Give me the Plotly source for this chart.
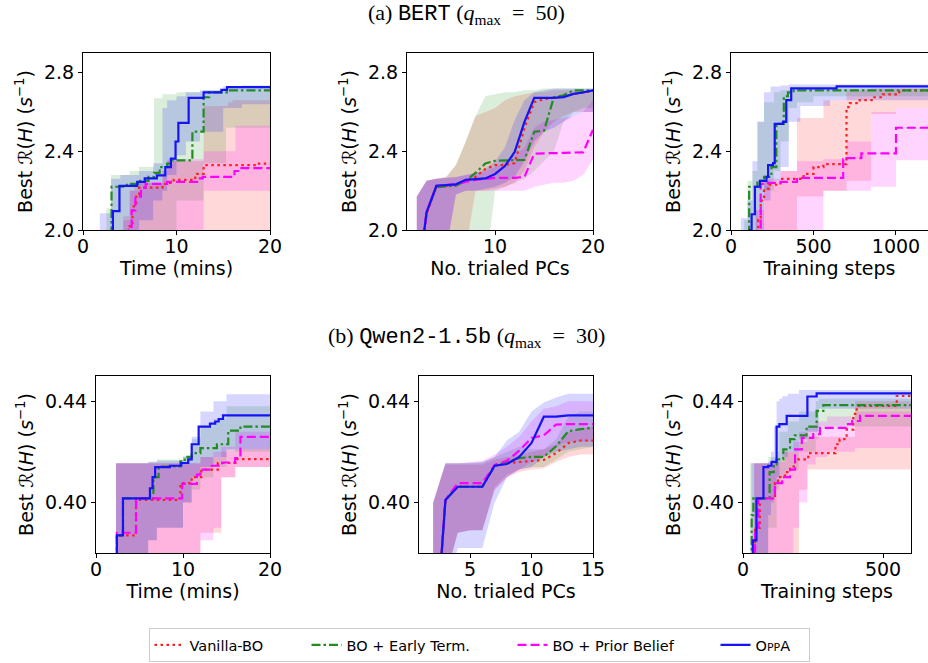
import plotly.graph_objects as go
from plotly.subplots import make_subplots

# ---------------- data ----------------
# (a) BERT, best throughput vs. time (mins)
bt_van_x = [4.8, 5.0, 5.3, 5.7, 6.0, 8.5, 9.0, 9.7, 12.0, 12.9, 18.5, 20]
bt_van_y = [1.9, 2.02, 2.12, 2.18, 2.215, 2.235, 2.24, 2.255, 2.285, 2.33, 2.338, 2.338]
bt_van_bx = [4.3, 5.0, 5.5, 6.0, 8.5, 9.0, 12.9, 15.5, 16.0, 20]
bt_van_lo = [1.9, 1.9, 1.9, 1.9, 1.9, 1.9, 1.9, 1.9, 1.9, 1.9]
bt_van_hi = [2.07, 2.2, 2.22, 2.24, 2.3, 2.35, 2.63, 2.65, 2.66, 2.66]

bt_early_x = [2.7, 3.05, 4.7, 5.9, 7.0, 7.6, 8.2, 9.0, 9.5, 11.7, 12.9, 13.5, 15.5, 20]
bt_early_y = [1.9, 2.22, 2.235, 2.25, 2.27, 2.29, 2.32, 2.338, 2.354, 2.50, 2.675, 2.70, 2.71, 2.71]
bt_early_bx = [2.5, 3.0, 5.0, 6.0, 7.6, 8.5, 10.0, 12.9, 15.3, 20]
bt_early_lo = [1.9, 1.9, 1.9, 1.9, 1.9, 1.95, 2.15, 2.34, 2.52, 2.52]
bt_early_hi = [2.11, 2.28, 2.30, 2.32, 2.67, 2.69, 2.70, 2.71, 2.72, 2.72]

bt_prior_x = [4.7, 4.9, 5.2, 5.6, 6.2, 6.7, 9.0, 12.2, 12.8, 16.2, 16.6, 20]
bt_prior_y = [1.9, 2.0, 2.1, 2.17, 2.215, 2.235, 2.245, 2.262, 2.27, 2.30, 2.315, 2.318]
bt_prior_bx = [4.3, 5.0, 6.0, 8.5, 9.0, 12.9, 16.3, 20]
bt_prior_lo = [1.9, 1.9, 1.9, 1.9, 1.9, 2.2, 2.2, 2.2]
bt_prior_hi = [2.05, 2.2, 2.24, 2.3, 2.36, 2.40, 2.53, 2.53]

bt_oppa_x = [2.8, 3.2, 3.9, 5.8, 6.6, 7.9, 8.8, 9.4, 9.9, 10.2, 11.3, 12.9, 14.8, 15.4, 20]
bt_oppa_y = [1.9, 2.096, 2.224, 2.245, 2.262, 2.278, 2.32, 2.363, 2.45, 2.545, 2.672, 2.70, 2.713, 2.726, 2.726]
bt_oppa_bx = [1.8, 3.0, 4.0, 6.0, 7.5, 8.5, 9.0, 10.0, 11.0, 12.5, 15.0, 17.0, 20]
bt_oppa_lo = [1.9, 1.9, 1.95, 2.05, 2.15, 2.2, 2.28, 2.38, 2.45, 2.5, 2.62, 2.64, 2.65]
bt_oppa_hi = [2.085, 2.26, 2.28, 2.30, 2.34, 2.62, 2.66, 2.68, 2.70, 2.71, 2.73, 2.735, 2.735]

# (a) BERT, best throughput vs. number of trialed PCs
bp_x = [2, 3, 4, 5, 6, 7, 8, 9, 10, 11, 12, 13, 14, 15, 16, 17, 18, 19, 20]
bp_van_y = [1.7, 2.08, 2.22, 2.225, 2.23, 2.25, 2.27, 2.31, 2.33, 2.33, 2.34, 2.52, 2.65, 2.665, 2.672, 2.68, 2.69, 2.70, 2.705]
bp_van_lo = [1.8, 1.8, 1.8, 1.8, 1.8, 1.9, 2.2, 2.2, 2.21, 2.22, 2.24, 2.3, 2.42, 2.5, 2.55, 2.58, 2.6, 2.6, 2.6]
bp_van_hi = [2.17, 2.25, 2.26, 2.27, 2.33, 2.45, 2.58, 2.60, 2.62, 2.66, 2.68, 2.69, 2.70, 2.70, 2.71, 2.71, 2.71, 2.71, 2.71]
bp_early_y = [1.7, 2.09, 2.218, 2.22, 2.225, 2.25, 2.29, 2.338, 2.352, 2.354, 2.356, 2.356, 2.50, 2.505, 2.675, 2.685, 2.71, 2.71, 2.71]
bp_early_lo = [1.8, 1.8, 1.8, 1.8, 1.8, 1.8, 1.8, 1.8, 2.2, 2.22, 2.24, 2.26, 2.3, 2.35, 2.4, 2.55, 2.6, 2.62, 2.62]
bp_early_hi = [2.17, 2.25, 2.26, 2.27, 2.33, 2.45, 2.58, 2.68, 2.69, 2.70, 2.70, 2.71, 2.71, 2.72, 2.72, 2.72, 2.72, 2.72, 2.72]
bp_prior_y = [1.7, 2.09, 2.225, 2.228, 2.232, 2.245, 2.255, 2.26, 2.265, 2.265, 2.265, 2.27, 2.388, 2.39, 2.39, 2.392, 2.394, 2.395, 2.51]
bp_prior_lo = [1.8, 1.8, 1.8, 1.9, 2.18, 2.2, 2.2, 2.2, 2.2, 2.2, 2.2, 2.2, 2.22, 2.23, 2.24, 2.24, 2.25, 2.28, 2.36]
bp_prior_hi = [2.17, 2.25, 2.26, 2.265, 2.27, 2.28, 2.29, 2.3, 2.32, 2.35, 2.38, 2.42, 2.52, 2.55, 2.56, 2.57, 2.58, 2.6, 2.66]
bp_oppa_y = [1.7, 2.09, 2.225, 2.228, 2.232, 2.255, 2.258, 2.262, 2.285, 2.325, 2.397, 2.55, 2.672, 2.672, 2.672, 2.676, 2.692, 2.70, 2.71]
bp_oppa_lo = [1.8, 1.8, 1.8, 1.9, 2.18, 2.2, 2.2, 2.21, 2.22, 2.24, 2.27, 2.35, 2.45, 2.5, 2.52, 2.55, 2.58, 2.6, 2.6]
bp_oppa_hi = [2.17, 2.25, 2.26, 2.265, 2.27, 2.28, 2.29, 2.31, 2.35, 2.42, 2.56, 2.66, 2.70, 2.71, 2.72, 2.72, 2.72, 2.72, 2.72]

# (a) BERT, best throughput vs. training steps
bs_van_x = [150, 165, 180, 200, 230, 300, 440, 500, 560, 700, 720, 780, 860, 920, 1020, 1200]
bs_van_y = [1.9, 2.05, 2.15, 2.21, 2.23, 2.26, 2.285, 2.32, 2.335, 2.625, 2.645, 2.66, 2.675, 2.69, 2.71, 2.715]
bs_van_bx = [150, 200, 300, 400, 560, 700, 850, 1000, 1200]
bs_van_lo = [1.9, 1.9, 1.9, 2.17, 2.2, 2.25, 2.59, 2.62, 2.63]
bs_van_hi = [2.1, 2.25, 2.30, 2.57, 2.66, 2.71, 2.72, 2.72, 2.72]

bs_early_x = [95, 110, 160, 200, 245, 275, 320, 345, 380, 1200]
bs_early_y = [1.9, 2.22, 2.25, 2.27, 2.32, 2.54, 2.68, 2.70, 2.71, 2.71]
bs_early_bx = [80, 100, 130, 160, 200, 260, 300, 350, 400, 500, 1200]
bs_early_lo = [1.9, 1.95, 2.0, 2.1, 2.2, 2.3, 2.45, 2.62, 2.65, 2.68, 2.70]
bs_early_hi = [2.05, 2.25, 2.3, 2.55, 2.65, 2.70, 2.71, 2.715, 2.72, 2.72, 2.72]

bs_prior_x = [150, 165, 180, 215, 300, 400, 680, 700, 790, 1000, 1200]
bs_prior_y = [1.9, 2.0, 2.235, 2.24, 2.245, 2.265, 2.36, 2.365, 2.39, 2.52, 2.52]
bs_prior_bx = [150, 200, 300, 400, 560, 700, 850, 1000, 1200]
bs_prior_lo = [1.9, 1.9, 1.9, 2.0, 2.2, 2.2, 2.22, 2.355, 2.355]
bs_prior_hi = [2.1, 2.26, 2.3, 2.35, 2.36, 2.45, 2.6, 2.62, 2.62]

bs_oppa_x = [100, 115, 125, 145, 175, 215, 225, 255, 265, 315, 335, 365, 640, 1200]
bs_oppa_y = [1.9, 2.0, 2.08, 2.22, 2.25, 2.27, 2.33, 2.34, 2.54, 2.55, 2.66, 2.72, 2.73, 2.73]
bs_oppa_bx = [60, 100, 130, 160, 200, 240, 300, 350, 420, 600, 1200]
bs_oppa_lo = [1.9, 1.9, 1.95, 2.0, 2.15, 2.25, 2.32, 2.55, 2.63, 2.66, 2.70]
bs_oppa_hi = [2.06, 2.15, 2.35, 2.55, 2.70, 2.73, 2.735, 2.74, 2.74, 2.74, 2.74]

# (b) Qwen2-1.5b, best throughput vs. time (mins)
qt_van_x = [2.2, 2.4, 4.6, 9.7, 11.0, 12.1, 14.0, 16.2, 20]
qt_van_y = [0.37, 0.387, 0.401, 0.4076, 0.410, 0.413, 0.4156, 0.4171, 0.4171]
qt_van_bx = [2.3, 4.6, 9.5, 12.0, 14.4, 16.0, 20]
qt_van_lo = [0.37, 0.37, 0.37, 0.388, 0.41, 0.414, 0.414]
qt_van_hi = [0.4155, 0.4155, 0.4155, 0.418, 0.42, 0.421, 0.4215]

qt_early_x = [2.2, 2.4, 3.1, 6.6, 7.2, 9.7, 10.2, 11.0, 12.0, 13.9, 15.2, 16.6, 20]
qt_early_y = [0.37, 0.387, 0.4016, 0.41, 0.4142, 0.4162, 0.418, 0.4195, 0.4215, 0.423, 0.4284, 0.430, 0.430]
qt_early_bx = [2.3, 6.0, 7.0, 10.0, 11.0, 12.0, 13.5, 15.0, 20]
qt_early_lo = [0.37, 0.385, 0.39, 0.40, 0.405, 0.41, 0.414, 0.42, 0.422]
qt_early_hi = [0.4155, 0.4162, 0.417, 0.4185, 0.425, 0.43, 0.433, 0.438, 0.44]

qt_prior_x = [2.2, 2.4, 4.6, 9.9, 11.6, 12.0, 13.3, 14.5, 16.0, 16.6, 20]
qt_prior_y = [0.37, 0.388, 0.4016, 0.4073, 0.411, 0.413, 0.4145, 0.4158, 0.4175, 0.4259, 0.4259]
qt_prior_bx = [2.3, 4.6, 9.5, 12.0, 13.5, 14.4, 16.0, 20]
qt_prior_lo = [0.37, 0.37, 0.37, 0.385, 0.39, 0.41, 0.414, 0.414]
qt_prior_hi = [0.4155, 0.4155, 0.4155, 0.418, 0.42, 0.422, 0.428, 0.429]

qt_oppa_x = [2.2, 2.4, 3.1, 6.2, 6.5, 6.8, 8.5, 9.8, 10.6, 11.0, 11.8, 13.1, 13.7, 14.1, 14.6, 20]
qt_oppa_y = [0.37, 0.387, 0.4016, 0.4056, 0.41, 0.414, 0.4145, 0.4156, 0.417, 0.423, 0.430, 0.4312, 0.432, 0.433, 0.4344, 0.4344]
qt_oppa_bx = [2.3, 6.0, 7.0, 10.0, 11.0, 12.0, 13.5, 15.0, 20]
qt_oppa_lo = [0.37, 0.385, 0.39, 0.40, 0.41, 0.414, 0.418, 0.421, 0.423]
qt_oppa_hi = [0.4155, 0.416, 0.4165, 0.418, 0.426, 0.436, 0.44, 0.4428, 0.4428]

# (b) Qwen2-1.5b, best throughput vs. number of trialed PCs
qp_x = [2, 3, 4, 5, 6, 7, 8, 9, 10, 11, 12, 13, 14, 15]
qp_van_y = [0.333, 0.401, 0.4062, 0.4062, 0.4062, 0.4145, 0.4155, 0.416, 0.4165, 0.4168, 0.4195, 0.4235, 0.4245, 0.4245]
qp_van_lo = [0.36, 0.37, 0.388, 0.389, 0.389, 0.405, 0.41, 0.412, 0.413, 0.4135, 0.416, 0.418, 0.419, 0.419]
qp_van_hi = [0.40, 0.415, 0.415, 0.415, 0.415, 0.417, 0.418, 0.419, 0.42, 0.421, 0.423, 0.428, 0.429, 0.43]
qp_early_y = [0.333, 0.401, 0.4062, 0.4062, 0.4062, 0.4145, 0.4158, 0.4175, 0.418, 0.418, 0.4222, 0.4282, 0.429, 0.4295]
qp_early_lo = [0.36, 0.37, 0.388, 0.389, 0.389, 0.406, 0.411, 0.413, 0.414, 0.414, 0.417, 0.42, 0.421, 0.422]
qp_early_hi = [0.40, 0.4155, 0.4155, 0.4158, 0.416, 0.418, 0.42, 0.422, 0.421, 0.421, 0.425, 0.434, 0.436, 0.436]
qp_prior_y = [0.333, 0.401, 0.4076, 0.4076, 0.4076, 0.4148, 0.4165, 0.4205, 0.4255, 0.4265, 0.4308, 0.431, 0.431, 0.431]
qp_prior_lo = [0.36, 0.37, 0.388, 0.389, 0.389, 0.405, 0.41, 0.413, 0.416, 0.418, 0.422, 0.424, 0.424, 0.424]
qp_prior_hi = [0.40, 0.4155, 0.4155, 0.416, 0.4165, 0.419, 0.422, 0.426, 0.432, 0.437, 0.438, 0.44, 0.44, 0.44]
qp_oppa_y = [0.333, 0.401, 0.4062, 0.4062, 0.4062, 0.4145, 0.4152, 0.418, 0.4235, 0.4339, 0.4339, 0.4344, 0.4344, 0.4344]
qp_oppa_lo = [0.36, 0.36, 0.382, 0.382, 0.382, 0.40, 0.41, 0.413, 0.414, 0.418, 0.42, 0.421, 0.422, 0.422]
qp_oppa_hi = [0.3996, 0.4155, 0.4155, 0.4155, 0.4158, 0.418, 0.4245, 0.428, 0.436, 0.4395, 0.4415, 0.443, 0.443, 0.443]

# (b) Qwen2-1.5b, best throughput vs. training steps
qs_van_x = [40, 43, 60, 114, 125, 150, 168, 186, 233, 330, 345, 370, 394, 406, 549, 600]
qs_van_y = [0.37, 0.39, 0.4016, 0.4076, 0.41, 0.412, 0.4142, 0.417, 0.4195, 0.423, 0.425, 0.4288, 0.435, 0.4382, 0.4421, 0.4421]
qs_van_bx = [40, 120, 140, 200, 230, 400, 600]
qs_van_lo = [0.37, 0.37, 0.38, 0.405, 0.413, 0.413, 0.413]
qs_van_hi = [0.4155, 0.416, 0.42, 0.424, 0.426, 0.44, 0.443]

qs_early_x = [25, 31, 37, 95, 110, 120, 144, 168, 185, 227, 263, 287, 600]
qs_early_y = [0.37, 0.395, 0.4016, 0.412, 0.415, 0.417, 0.421, 0.425, 0.4265, 0.430, 0.4362, 0.4385, 0.4385]
qs_early_bx = [25, 90, 120, 130, 160, 200, 260, 270, 600]
qs_early_lo = [0.37, 0.39, 0.405, 0.41, 0.413, 0.42, 0.425, 0.43, 0.432]
qs_early_hi = [0.4155, 0.418, 0.42, 0.428, 0.432, 0.436, 0.44, 0.441, 0.441]

qs_prior_x = [40, 43, 55, 114, 140, 168, 186, 210, 251, 275, 370, 390, 418, 600]
qs_prior_y = [0.37, 0.39, 0.4016, 0.4076, 0.41, 0.413, 0.421, 0.4255, 0.427, 0.4295, 0.431, 0.4322, 0.4342, 0.4342]
qs_prior_bx = [40, 100, 150, 180, 200, 230, 260, 300, 400, 600]
qs_prior_lo = [0.37, 0.37, 0.37, 0.39, 0.40, 0.415, 0.418, 0.42, 0.4215, 0.4215]
qs_prior_hi = [0.4155, 0.416, 0.42, 0.424, 0.428, 0.43, 0.432, 0.434, 0.436, 0.437]

qs_oppa_x = [30, 35, 48, 73, 90, 102, 120, 130, 156, 210, 230, 263, 600]
qs_oppa_y = [0.37, 0.385, 0.4016, 0.414, 0.4145, 0.416, 0.430, 0.431, 0.4342, 0.4342, 0.4419, 0.4431, 0.4431]
qs_oppa_bx = [30, 60, 90, 100, 110, 120, 130, 140, 160, 200, 230, 270, 600]
qs_oppa_lo = [0.37, 0.37, 0.395, 0.40, 0.405, 0.41, 0.416, 0.418, 0.42, 0.425, 0.428, 0.437, 0.438]
qs_oppa_hi = [0.4155, 0.4155, 0.416, 0.42, 0.43, 0.44, 0.441, 0.442, 0.443, 0.4445, 0.4445, 0.4445, 0.4445]

method_names = ["Vanilla-BO", "BO + Early Term.", "BO + Prior Belief",
                "O<span style='font-size:11px'>PP</span>A"]
# ---------------------------------------------------------------

STYLE = {
    "van": dict(color="rgb(255,30,30)", dash="2.5px,3.5px", fill="rgba(255,0,0,0.15)", lw=112),
    "early": dict(color="rgb(34,139,34)", dash="9px,3px,2.5px,3px", fill="rgba(0,128,0,0.14)", lw=161),
    "prior": dict(color="rgb(255,0,255)", dash="9px,4px", fill="rgba(255,0,255,0.17)", lw=158),
    "oppa": dict(color="rgb(20,20,245)", dash="solid", fill="rgba(0,0,255,0.16)", lw=48),
}
KEYS = ["van", "early", "prior", "oppa"]

FONT = "DejaVu Sans, Arial, sans-serif"
fig = make_subplots(rows=2, cols=3)


def add_band(row, col, key, bx, lo, hi, shape):
    st = STYLE[key]
    fig.add_trace(go.Scatter(x=bx, y=lo, mode="lines", line=dict(width=0, shape=shape),
                             showlegend=False, hoverinfo="skip"), row=row, col=col)
    fig.add_trace(go.Scatter(x=bx, y=hi, mode="lines", line=dict(width=0, shape=shape),
                             fill="tonexty", fillcolor=st["fill"],
                             showlegend=False, hoverinfo="skip"), row=row, col=col)


def add_line(row, col, key, x, y, shape, legend):
    st = STYLE[key]
    fig.add_trace(go.Scatter(x=x, y=y, mode="lines", name=method_names[KEYS.index(key)],
                             line=dict(color=st["color"], width=2.2, dash=st["dash"], shape=shape),
                             showlegend=legend, legendwidth=st["lw"]), row=row, col=col)


# step panels: time & training steps
step_panels = [
    (1, 1, {"van": (bt_van_x, bt_van_y, bt_van_bx, bt_van_lo, bt_van_hi),
            "early": (bt_early_x, bt_early_y, bt_early_bx, bt_early_lo, bt_early_hi),
            "prior": (bt_prior_x, bt_prior_y, bt_prior_bx, bt_prior_lo, bt_prior_hi),
            "oppa": (bt_oppa_x, bt_oppa_y, bt_oppa_bx, bt_oppa_lo, bt_oppa_hi)}),
    (1, 3, {"van": (bs_van_x, bs_van_y, bs_van_bx, bs_van_lo, bs_van_hi),
            "early": (bs_early_x, bs_early_y, bs_early_bx, bs_early_lo, bs_early_hi),
            "prior": (bs_prior_x, bs_prior_y, bs_prior_bx, bs_prior_lo, bs_prior_hi),
            "oppa": (bs_oppa_x, bs_oppa_y, bs_oppa_bx, bs_oppa_lo, bs_oppa_hi)}),
    (2, 1, {"van": (qt_van_x, qt_van_y, qt_van_bx, qt_van_lo, qt_van_hi),
            "early": (qt_early_x, qt_early_y, qt_early_bx, qt_early_lo, qt_early_hi),
            "prior": (qt_prior_x, qt_prior_y, qt_prior_bx, qt_prior_lo, qt_prior_hi),
            "oppa": (qt_oppa_x, qt_oppa_y, qt_oppa_bx, qt_oppa_lo, qt_oppa_hi)}),
    (2, 3, {"van": (qs_van_x, qs_van_y, qs_van_bx, qs_van_lo, qs_van_hi),
            "early": (qs_early_x, qs_early_y, qs_early_bx, qs_early_lo, qs_early_hi),
            "prior": (qs_prior_x, qs_prior_y, qs_prior_bx, qs_prior_lo, qs_prior_hi),
            "oppa": (qs_oppa_x, qs_oppa_y, qs_oppa_bx, qs_oppa_lo, qs_oppa_hi)}),
]
for row, col, d in step_panels:
    for k in KEYS:
        x, y, bx, lo, hi = d[k]
        add_band(row, col, k, bx, lo, hi, "hv")
    for k in KEYS:
        x, y, bx, lo, hi = d[k]
        add_line(row, col, k, x, y, "hv", legend=(row == 1 and col == 1))

# PC panels (integer x, linear)
pc_panels = [
    (1, 2, bp_x, {"van": (bp_van_y, bp_van_lo, bp_van_hi), "early": (bp_early_y, bp_early_lo, bp_early_hi),
                  "prior": (bp_prior_y, bp_prior_lo, bp_prior_hi), "oppa": (bp_oppa_y, bp_oppa_lo, bp_oppa_hi)}),
    (2, 2, qp_x, {"van": (qp_van_y, qp_van_lo, qp_van_hi), "early": (qp_early_y, qp_early_lo, qp_early_hi),
                  "prior": (qp_prior_y, qp_prior_lo, qp_prior_hi), "oppa": (qp_oppa_y, qp_oppa_lo, qp_oppa_hi)}),
]
for row, col, xs, d in pc_panels:
    for k in KEYS:
        y, lo, hi = d[k]
        add_band(row, col, k, xs, lo, hi, "linear")
    for k in KEYS:
        y, lo, hi = d[k]
        add_line(row, col, k, xs, y, "linear", legend=False)

# axes
ytitle = "Best ℛ(<i>H</i>) (<i>s</i><sup>−1</sup>)"
ax_common = dict(showline=True, linecolor="black", linewidth=1, mirror=True, ticks="outside",
                 ticklen=4, tickwidth=1, tickcolor="black", showgrid=False, zeroline=False,
                 automargin=False, tickfont=dict(family=FONT, size=19, color="black"))
top_y = [1 - 230 / 663, 1 - 53 / 663]
bot_y = [1 - 553 / 663, 1 - 376 / 663]
xdom = {1: [83, 270], 2: [407, 593], 3: [731, 928], 4: [96, 270], 5: [419, 593], 6: [743, 911]}
xrng = {1: [0, 20], 2: [1.0, 20], 3: [0, 1194], 4: [0, 20], 5: [0.85, 15], 6: [0, 600]}
xtv = {1: [0, 10, 20], 2: [10, 20], 3: [0, 500, 1000], 4: [0, 10, 20], 5: [5, 10, 15], 6: [0, 500]}
xtitles = {1: "Time (mins)", 2: "No. trialed PCs", 3: "Training steps",
           4: "Time (mins)", 5: "No. trialed PCs", 6: "Training steps"}

for i in range(1, 7):
    sfx = "" if i == 1 else str(i)
    top = i <= 3
    fig.layout["xaxis" + sfx].update(
        ax_common, domain=[xdom[i][0] / 928, xdom[i][1] / 928], range=xrng[i],
        tickvals=xtv[i], ticklabelstandoff=-5,
        title=dict(text=xtitles[i], standoff=3, font=dict(family=FONT, size=19, color="black")))
    fig.layout["yaxis" + sfx].update(
        ax_common, domain=top_y if top else bot_y,
        range=[2.0, 2.9] if top else [0.38, 0.45],
        tickvals=[2.0, 2.4, 2.8] if top else [0.40, 0.44],
        tickformat=".1f" if top else ".2f",
        title=dict(text=ytitle, standoff=6, font=dict(family=FONT, size=19, color="black")))

serif = "Liberation Serif, DejaVu Serif, serif"
mono = "Liberation Mono, DejaVu Sans Mono, monospace"
sp = "\u2002"
fig.add_annotation(x=0.503, y=1 - 14 / 663, xref="paper", yref="paper", showarrow=False,
                   xanchor="center", yanchor="middle",
                   text="(a) <span style='font-family:" + mono + "'>BERT</span> (<i>q</i><sub>max</sub>"
                        + sp + "=" + sp + "50)",
                   font=dict(family=serif, size=22, color="black"))
fig.add_annotation(x=0.503, y=1 - 337 / 663, xref="paper", yref="paper", showarrow=False,
                   xanchor="center", yanchor="middle",
                   text="(b) <span style='font-family:" + mono + "'>Qwen2-1.5b</span> (<i>q</i><sub>max</sub>"
                        + sp + "=" + sp + "30)",
                   font=dict(family=serif, size=22, color="black"))

fig.update_layout(
    template="none",
    width=928, height=663, margin=dict(l=0, r=0, t=0, b=0),
    plot_bgcolor="white", paper_bgcolor="white",
    legend=dict(orientation="h", x=479 / 928, xanchor="center", y=1 - 645 / 663, yanchor="middle",
                traceorder="normal", bordercolor="#cccccc", borderwidth=1, bgcolor="white",
                font=dict(family=FONT, size=14.5, color="black")),
)

fig.write_html("out.html", config={"displayModeBar": False},
               post_script="document.body.style.margin='0px';")
